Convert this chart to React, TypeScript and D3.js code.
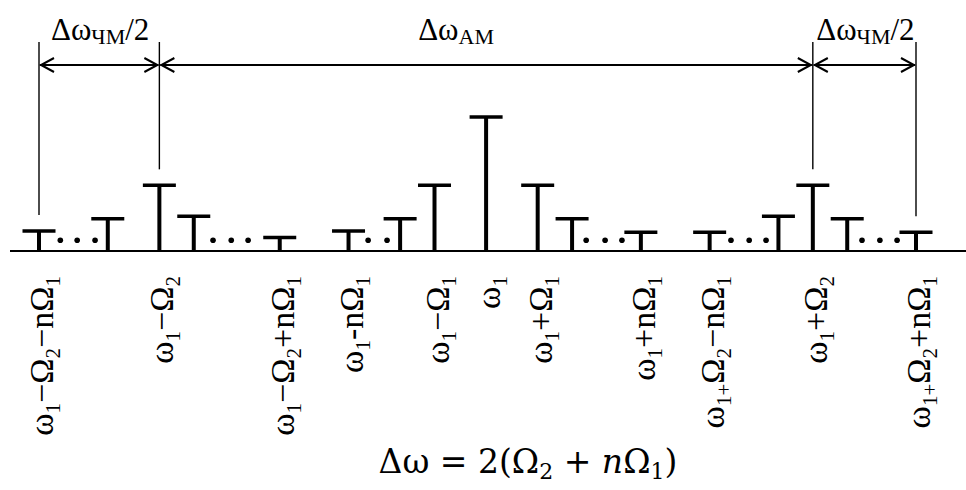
import React from 'react';
import * as d3 from 'd3';

// spectrum lines: offset from carrier (in Ω1-ish units) and relative amplitude
const offsets = [-13, -11, -9.5, -8.5, -6, -4, -2.5, -1.5, 0, 1.5, 2.5, 4.5, 6.5, 8.5, 9.5, 10.5, 12.5];
const amplitudes = [0.15, 0.24, 0.49, 0.26, 0.1, 0.15, 0.24, 0.49, 1, 0.49, 0.24, 0.14, 0.14, 0.26, 0.49, 0.24, 0.14];
const labels = [
  'ω_1−Ω_2−nΩ_1', '', 'ω_1−Ω_2', '', 'ω_1−Ω_2+nΩ_1', 'ω_1-nΩ_1', '', 'ω_1−Ω_1', 'ω_1',
  'ω_1+Ω_1', '', 'ω_1+nΩ_1', 'ω_{1+}Ω_2−nΩ_1', '', 'ω_1+Ω_2', '', 'ω_{1+}Ω_2+nΩ_1',
];
// "..." dots between lines
const dotOffsets = [-12.38, -11.89, -11.37, -7.94, -7.41, -6.92, -3.43, -2.88, 2.91, 3.46, 3.95, 7.12, 7.65, 8.14, 10.93, 11.45, 11.95];
const dotLevel = 0.08;
// bandwidth dimension marks
const bounds = [-13, -9.5, 9.5, 12.5];
const boundAmps = [0.15, 0.49, 0.49, 0.14];
const spanLabels = ['Δω_{ЧМ}/2', 'Δω_{АМ}', 'Δω_{ЧМ}/2'];
const formula = 'Δω = 2(Ω_2 + nΩ_1)';

const W = 966, H = 490;
const base = 251;

// split "ω_1−Ω_2" into [text, isSub] pieces
function parse(s: string): [string, boolean][] {
  const out: [string, boolean][] = [];
  let i = 0, buf = '';
  while (i < s.length) {
    if (s[i] === '_') {
      if (buf) out.push([buf, false]);
      buf = '';
      if (s[i + 1] === '{') {
        const j = s.indexOf('}', i);
        out.push([s.slice(i + 2, j), true]);
        i = j + 1;
      } else {
        out.push([s[i + 1], true]);
        i += 2;
      }
    } else {
      buf += s[i];
      i++;
    }
  }
  if (buf) out.push([buf, false]);
  return out;
}

function Rich({ s, size, subSize, shift, italicN }: { s: string; size: number; subSize: number; shift: number; italicN?: boolean }) {
  const parts = parse(s);
  let low = false;
  const out: JSX.Element[] = [];
  parts.forEach(([t, sub], i) => {
    let dy = 0;
    if (sub && !low) { dy = shift; low = true; }
    else if (!sub && low) { dy = -shift; low = false; }
    if (italicN && !sub && t.includes('n')) {
      t.split('n').forEach((p, k) => {
        if (k > 0) out.push(<tspan key={i + 'n' + k} fontStyle="italic" fontSize={size}>n</tspan>);
        out.push(<tspan key={i + 'p' + k} dy={k === 0 ? dy : 0} fontSize={size}>{p}</tspan>);
      });
    } else {
      out.push(<tspan key={i} dy={dy} fontSize={sub ? subSize : size}>{t}</tspan>);
    }
  });
  return <>{out}</>;
}

export default function App() {
  const x = d3.scaleLinear().domain([-13, 12.5]).range([39, 916]);
  const y = d3.scaleLinear().domain([0, 1]).range([base, 117]);
  const cap = 16.5;
  const arrowY = 65;
  const lineTop = 42;
  const font = '"Liberation Serif", "Times New Roman", serif';

  const arrow = (x0: number, x1: number, key: string) => {
    const a = 14, b = 7;
    return (
      <g key={key} stroke="#000" fill="none" strokeWidth={2}>
        <line x1={x0 + 1} x2={x1 - 1} y1={arrowY} y2={arrowY} />
        <path d={`M${x0 + 1 + a},${arrowY - b}L${x0 + 2},${arrowY}L${x0 + 1 + a},${arrowY + b}`} />
        <path d={`M${x1 - 1 - a},${arrowY - b}L${x1 - 2},${arrowY}L${x1 - 1 - a},${arrowY + b}`} />
      </g>
    );
  };

  return (
    <svg width={W} height={H} style={{ position: 'absolute', left: 0, top: 0, background: '#fff' }} fontFamily={font}>
      {/* baseline */}
      <line x1={10} x2={W} y1={base} y2={base} stroke="#000" strokeWidth={2} />

      {/* spectral lines */}
      {offsets.map((o, i) => (
        <g key={'b' + i} stroke="#000">
          <line x1={x(o)} x2={x(o)} y1={base} y2={y(amplitudes[i])} strokeWidth={4} />
          <line x1={x(o) - cap} x2={x(o) + cap} y1={y(amplitudes[i])} y2={y(amplitudes[i])} strokeWidth={3.5} />
        </g>
      ))}

      {/* dots */}
      {dotOffsets.map((o, i) => (
        <circle key={'d' + i} cx={x(o)} cy={y(dotLevel)} r={2.8} fill="#000" />
      ))}

      {/* guide lines */}
      {bounds.map((o, i) => (
        <line key={'g' + i} x1={x(o)} x2={x(o)} y1={lineTop} y2={y(boundAmps[i]) - 16} stroke="#000" strokeWidth={1.4} />
      ))}

      {/* dimension arrows */}
      {bounds.slice(1).map((o, i) => arrow(x(bounds[i]), x(o), 'a' + i))}

      {spanLabels.map((s, i) => {
        const mid = (x(bounds[i]) + x(bounds[i + 1])) / 2 + (i === 1 ? -30 : 1);
        return (
          <text key={'s' + i} x={mid} y={40} textAnchor="middle" fontSize={31}>
            <Rich s={s} size={31} subSize={22} shift={4} />
          </text>
        );
      })}

      {/* frequency labels */}
      {offsets.map((o, i) =>
        labels[i] ? (
          <text
            key={'l' + i}
            transform={`translate(${x(o) + 14},${276}) rotate(-90)`}
            textAnchor="end"
            fontSize={34}
          >
            <Rich s={labels[i]} size={34} subSize={21} shift={7} />
          </text>
        ) : null
      )}

      {/* bandwidth formula */}
      <text x={528} y={473} textAnchor="middle" fontSize={33} fontFamily='"DejaVu Serif", serif'>
        <Rich s={formula} size={33} subSize={22} shift={6} italicN />
      </text>
    </svg>
  );
}
